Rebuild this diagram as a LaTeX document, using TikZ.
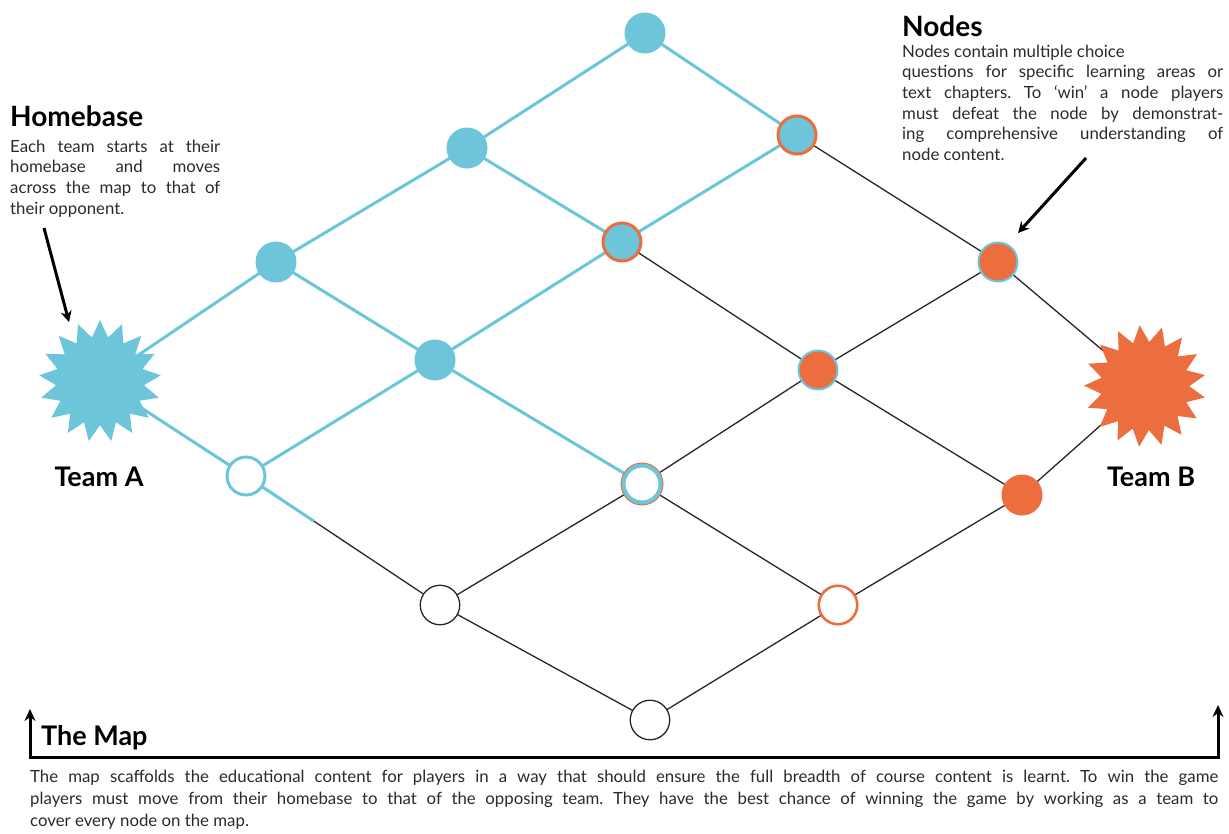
\documentclass[tikz,border=0pt]{standalone}
\usepackage{fontspec}
\setmainfont{Lato}
\usetikzlibrary{shapes.geometric,arrows.meta,calc}
\definecolor{tcyan}{HTML}{6CC5D9}
\definecolor{torange}{HTML}{EC6D3E}
\definecolor{tline}{HTML}{262626}
\definecolor{ttext}{HTML}{2A2A2A}
\frenchspacing
\begin{document}
\begin{tikzpicture}[x=1pt,y=-1pt,
  gnode/.style={circle,inner sep=0pt,minimum size=41pt},
  cfill/.style={gnode,fill=tcyan},
  cfillo/.style={gnode,fill=tcyan,draw=torange,line width=3pt,minimum size=38pt},
  ofillc/.style={gnode,fill=torange,draw=tcyan,line width=2pt,minimum size=39pt},
  ofill/.style={gnode,fill=torange},
  wcyan/.style={gnode,fill=white,draw=tcyan,line width=3pt,minimum size=38pt},
  wmixed/.style={gnode,fill=white,draw=tcyan,line width=4pt,minimum size=37pt,
     preaction={draw=torange,line width=6pt}},
  wblack/.style={gnode,fill=white,draw=tline,line width=1.3pt,minimum size=39.5pt},
  worange/.style={gnode,fill=white,draw=torange,line width=2.6pt,minimum size=38.5pt},
  bline/.style={draw=tline,line width=1.3pt},
  cline/.style={draw=tcyan,line width=3pt},
  cdouble/.style={draw=tcyan,line width=3pt,shift={(0,1.7)}},
  homestar/.style={star,star points=17,star point ratio=1.38,minimum size=122pt,inner sep=0pt},
  head/.style={anchor=base west,inner sep=0pt,font=\fontsize{28pt}{31pt}\selectfont\bfseries,text=black},
  teamlbl/.style={anchor=base,inner sep=0pt,font=\fontsize{27pt}{30pt}\selectfont\bfseries,text=black},
  body/.style={anchor=base west,inner sep=0pt,text=ttext},
  pointer/.style={draw=black,line width=3pt,-{Stealth[length=11pt,width=11pt]}},
]
\useasboundingbox (0,0) rectangle (1229,833);

% lattice positions
\coordinate (p00) at (100,381);
\coordinate (p10) at (276,262);
\coordinate (p20) at (467,148);
\coordinate (p30) at (645,33);
\coordinate (p01) at (246,476);
\coordinate (p11) at (435,360);
\coordinate (p21) at (622,242);
\coordinate (p31) at (797,135);
\coordinate (p02) at (440,605);
\coordinate (p12) at (642,484);
\coordinate (p22) at (818,370);
\coordinate (p32) at (998,262);
\coordinate (p03) at (650,720);
\coordinate (p13) at (838,605);
\coordinate (p23) at (1022,495);
\coordinate (p33) at (1145,386);

% black grid
\foreach \a/\b in {p00/p10,p10/p20,p20/p30,p01/p11,p11/p21,p21/p31,p02/p12,p12/p22,p22/p32,p03/p13,p13/p23,p23/p33,
  p00/p01,p01/p02,p02/p03,p10/p11,p11/p12,p12/p13,p20/p21,p21/p22,p22/p23,p30/p31,p31/p32,p32/p33}
  \draw[bline] (\a) -- (\b);

% cyan paths
\foreach \a/\b in {p00/p10,p10/p20,p20/p30,p01/p11,p11/p21,p21/p31,p10/p11}
  \draw[cline] (\a) -- (\b);
\foreach \a/\b in {p00/p01,p11/p12,p20/p21,p30/p31}
  \draw[cdouble] (\a) -- (\b);
\draw[cdouble] (p01) -- ($(p01)!0.35!(p02)$);

% homebases
\node[homestar,fill=tcyan] (teamA) at (p00) {};
\node[homestar,fill=torange,rotate=5] (teamB) at (p33) {};

% nodes
\node[cfill] (n30) at (p30) {};
\node[cfill] (n20) at (p20) {};
\node[cfill] (n10) at (p10) {};
\node[cfillo] (n31) at (p31) {};
\node[cfillo] (n21) at (p21) {};
\node[cfill] (n11) at (p11) {};
\node[wcyan] (n01) at (p01) {};
\node[ofillc] (n32) at (p32) {};
\node[ofillc] (n22) at (p22) {};
\node[wmixed] (n12) at (p12) {};
\node[wblack] (n02) at (p02) {};
\node[ofill] (n23) at (p23) {};
\node[worange] (n13) at (p13) {};
\node[wblack] (n03) at (p03) {};

% team labels
\node[teamlbl] (lblA) at (99,486) {Team A};
\node[teamlbl] (lblB) at (1151,486) {Team B};

% Homebase text
\node[head] (hbhead) at (10,126) {Homebase};
\node[body] (hbtext) at (10,152) {\parbox[t]{210pt}{\fontsize{16.8pt}{20.7pt}\selectfont
Each team starts at their\linebreak
homebase and moves\linebreak
across the map to that of\linebreak
their opponent.}};

% Nodes text
\node[head] (ndhead) at (902,36) {Nodes};
\node[body] (ndtext) at (902,57) {\parbox[t]{321pt}{\fontsize{16.8pt}{20.7pt}\selectfont
Nodes contain multiple choice\\
questions for specific learning areas or\linebreak
text chapters. To `win' a node players\linebreak
must defeat the node by demonstrat-\linebreak
ing comprehensive understanding of\linebreak
node content.}};

% pointers
\coordinate (hbtail) at (44,228);
\coordinate (hbtip) at (69,322);
\draw[pointer] (hbtail) -- (hbtip);
\coordinate (ndtail) at (1086,158);
\coordinate (ndtip) at (1018,233);
\draw[pointer] (ndtail) -- (ndtip);

% The Map bracket
\coordinate (bl) at (30,709);
\coordinate (blc) at (30,757);
\coordinate (brc) at (1218,757);
\coordinate (br) at (1218,705);
\draw[line width=3pt,line join=miter,{Stealth[length=12pt,width=11pt]}-{Stealth[length=12pt,width=11pt]}] (bl) -- (blc) -- (brc) -- (br);
\node[head,font=\fontsize{27pt}{30pt}\selectfont\bfseries] (maphead) at (41,745) {The Map};
\node[body] (maptext) at (30,782) {\parbox[t]{1188pt}{\fontsize{16.8pt}{22.3pt}\selectfont
The map scaffolds the educational content for players in a way that should ensure the full breadth of course content is learnt. To win the game\linebreak
players must move from their homebase to that of the opposing team. They have the best chance of winning the game by working as a team to\linebreak
cover every node on the map.}};
\end{tikzpicture}
\end{document}
